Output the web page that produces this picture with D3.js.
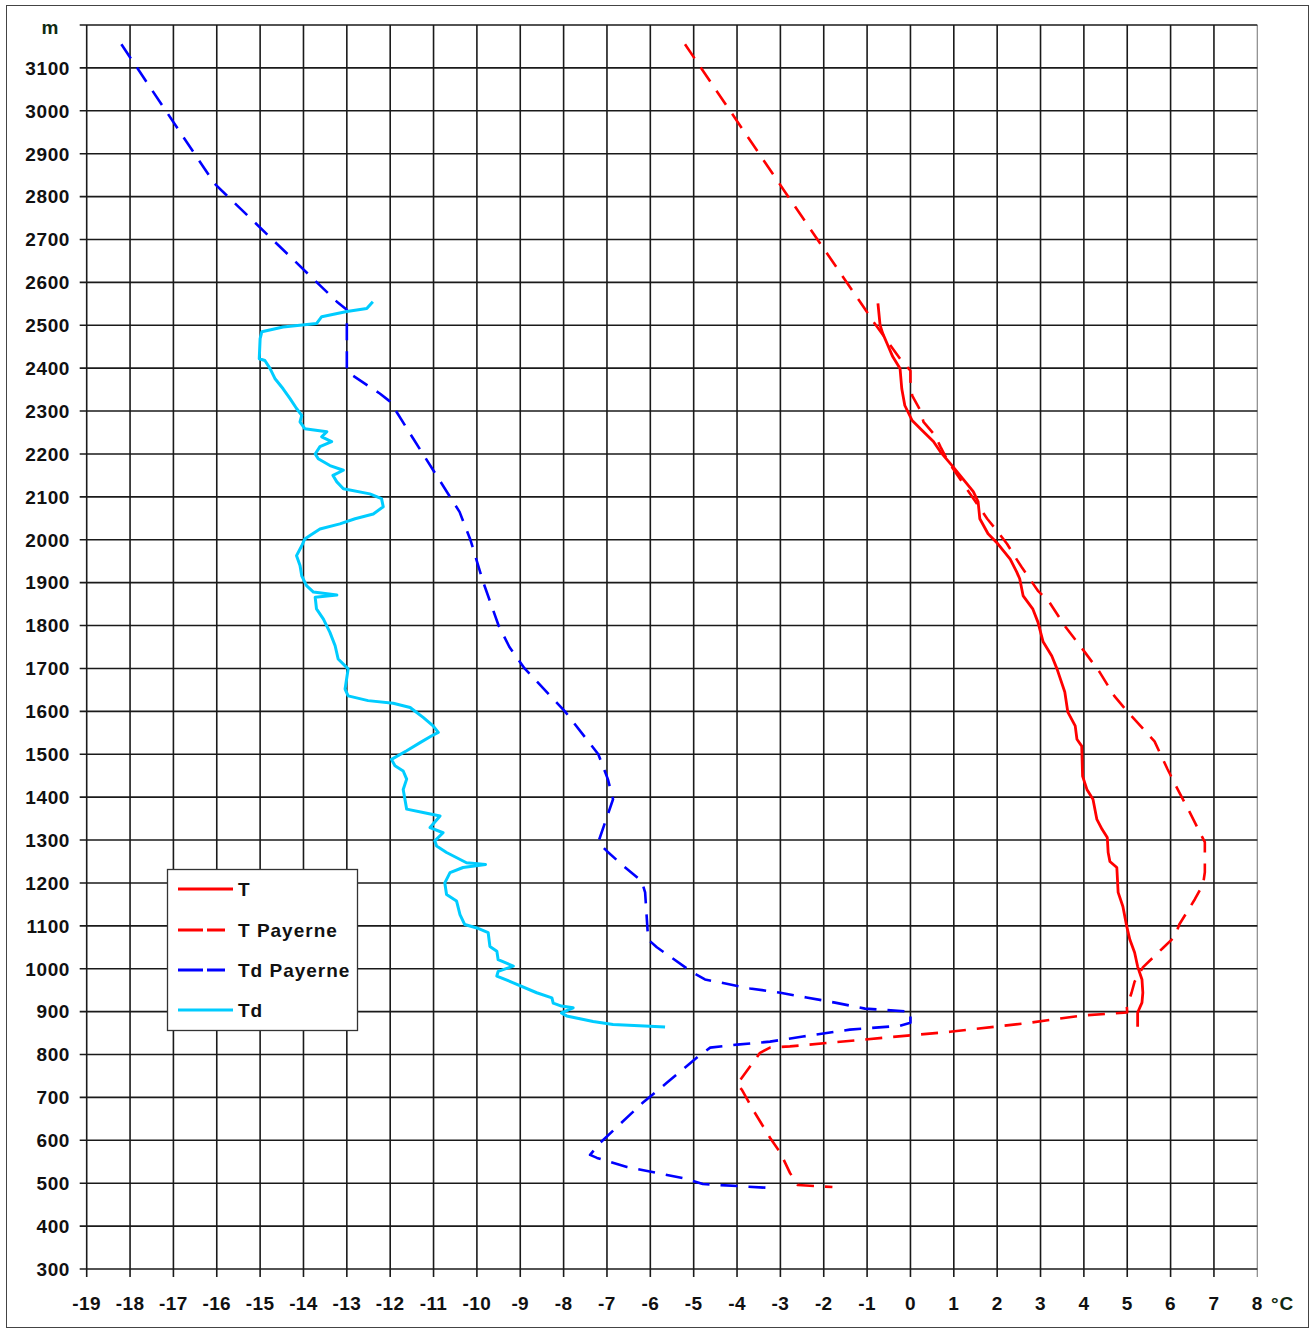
<!DOCTYPE html>
<html><head><meta charset="utf-8">
<script src="https://cdn.jsdelivr.net/npm/d3@7/dist/d3.min.js"></script>
<style>body{margin:0;background:#fff}svg{display:block}text{font-family:"Liberation Sans",Arial,sans-serif}</style>
</head><body><svg id="c" width="1313" height="1329"></svg>
<script>
// x ticks (°C) and y ticks (m)
const xTicks = d3.range(-19, 9, 1);
const yTicks = d3.range(300, 3300, 100);
const seriesNames = ["T", "T Payerne", "Td Payerne", "Td"];

// [altitude m, temperature °C]
const tPayerne = [[3155,-5.2],[2812,-2.9],[2532,-1.01],[2509,-0.86],[2422,-0.24],[2394,0.0],[2369,0.0],[2336,0.04],[2301,0.23],[2275,0.3],[2243,0.57],[2217,0.69],[2182,0.87],[2049,1.77],[2018,2.02],[1990,2.23],[1962,2.4],[1937,2.56],[1881,2.94],[1855,3.2],[1799,3.56],[1745,3.97],[1692,4.36],[1636,4.7],[1601,4.99],[1530,5.63],[1465,5.93],[1411,6.2],[1365,6.44],[1295,6.79],[1225,6.79],[1197,6.75],[1162,6.56],[1103,6.2],[1075,6.1],[1049,5.83],[1003,5.36],[970,5.17],[944,5.1],[912,4.99],[898,5.0],[891,3.97],[874,2.75],[853,0.91],[839,-0.63],[828,-1.79],[819,-2.78],[816,-3.24],[804,-3.47],[772,-3.7],[730,-4.0],[718,-3.89],[671,-3.63],[606,-3.24],[571,-3.0],[524,-2.78],[496,-2.6],[491,-1.8]];

const tdPayerne = [[3155,-18.2],[2830,-16.05],[2555,-13.23],[2536,-13.0],[2392,-13.0],[2341,-12.24],[2322,-12.0],[2236,-11.47],[2065,-10.4],[2000,-10.15],[1900,-9.85],[1800,-9.5],[1750,-9.25],[1700,-8.9],[1600,-7.97],[1500,-7.2],[1442,-6.98],[1395,-6.86],[1295,-7.2],[1274,-7.0],[1243,-6.66],[1204,-6.2],[1178,-6.12],[1068,-6.05],[1050,-5.85],[991,-5.02],[975,-4.74],[954,-3.7],[944,-3.0],[933,-2.4],[921,-1.74],[907,-1.05],[900,0.0],[874,0.0],[867,-0.24],[858,-1.4],[842,-2.48],[830,-3.24],[823,-4.0],[816,-4.62],[795,-4.9],[734,-5.62],[688,-6.17],[594,-7.16],[566,-7.39],[559,-7.23],[538,-6.54],[512,-5.25],[498,-4.79],[489,-3.24]];

const tObs = [[2551,-0.75],[2500,-0.7],[2481,-0.64],[2453,-0.52],[2427,-0.41],[2399,-0.24],[2352,-0.2],[2313,-0.13],[2278,0.04],[2259,0.23],[2229,0.53],[2205,0.69],[2173,0.96],[2142,1.21],[2112,1.45],[2089,1.56],[2049,1.6],[2014,1.79],[1990,2.02],[1955,2.3],[1925,2.45],[1909,2.52],[1869,2.6],[1839,2.82],[1808,2.94],[1762,3.06],[1729,3.26],[1699,3.38],[1645,3.56],[1598,3.63],[1566,3.8],[1535,3.84],[1519,3.95],[1449,3.97],[1418,4.07],[1395,4.21],[1348,4.3],[1325,4.42],[1306,4.54],[1271,4.56],[1250,4.6],[1236,4.76],[1178,4.79],[1145,4.9],[1098,4.99],[1068,5.06],[1038,5.17],[1005,5.24],[975,5.34],[944,5.36],[921,5.34],[898,5.24],[865,5.24]];

const tdObs = [[2555,-12.4],[2539,-12.54],[2532,-13.0],[2520,-13.58],[2504,-13.7],[2496,-14.47],[2485,-14.96],[2469,-15.0],[2422,-15.02],[2418,-14.89],[2399,-14.77],[2376,-14.66],[2352,-14.47],[2329,-14.31],[2306,-14.16],[2290,-14.04],[2275,-14.08],[2259,-13.97],[2252,-13.46],[2240,-13.58],[2229,-13.35],[2217,-13.62],[2200,-13.73],[2189,-13.66],[2173,-13.39],[2162,-13.08],[2150,-13.32],[2135,-13.23],[2119,-13.08],[2107,-12.47],[2096,-12.2],[2077,-12.16],[2060,-12.39],[2049,-12.81],[2037,-13.16],[2025,-13.62],[2010,-13.85],[2002,-13.97],[1986,-14.04],[1963,-14.16],[1940,-14.08],[1916,-14.04],[1893,-13.93],[1878,-13.77],[1871,-13.23],[1866,-13.73],[1839,-13.7],[1815,-13.54],[1784,-13.39],[1753,-13.27],[1722,-13.2],[1699,-12.97],[1652,-13.04],[1636,-12.97],[1625,-12.51],[1619,-11.93],[1609,-11.54],[1586,-11.24],[1566,-11.01],[1551,-10.89],[1543,-11.04],[1527,-11.31],[1508,-11.62],[1488,-11.97],[1473,-11.89],[1461,-11.7],[1442,-11.62],[1418,-11.7],[1372,-11.62],[1364,-11.24],[1356,-10.85],[1329,-11.08],[1317,-10.78],[1298,-10.97],[1286,-10.93],[1271,-10.7],[1247,-10.24],[1243,-9.8],[1236,-10.32],[1224,-10.62],[1200,-10.74],[1173,-10.7],[1158,-10.47],[1126,-10.39],[1103,-10.28],[1095,-10.0],[1084,-9.74],[1052,-9.7],[1041,-9.54],[1021,-9.51],[1006,-9.16],[994,-9.51],[983,-9.54],[967,-9.16],[944,-8.62],[932,-8.27],[920,-8.24],[913,-8.05],[909,-7.78],[897,-8.05],[890,-7.93],[877,-7.32],[870,-6.86],[866,-6.01],[864,-5.66]];

const svg = d3.select("#c");
const L = 86.7, R = 1257.3, T = 25, B = 1269;
const x = d3.scaleLinear().domain([-19, 8]).range([L, R]);
const y = d3.scaleLinear().domain([300, 3200]).range([B, T]);

// outer frame
svg.append("rect").attr("x",6.5).attr("y",5.5).attr("width",1302).attr("height",1322)
  .attr("fill","#fff").attr("stroke","#444").attr("stroke-width",1);

const gridCol = "#1a1a1a";
// vertical grid
svg.append("g").selectAll("line").data(xTicks.filter(d => d < 8)).join("line")
  .attr("x1", d => x(d)).attr("x2", d => x(d)).attr("y1", T).attr("y2", B + 8)
  .attr("stroke", gridCol).attr("stroke-width", 1.6);
// right border (lighter)
svg.append("line").attr("x1", x(8)).attr("x2", x(8)).attr("y1", T).attr("y2", B + 8)
  .attr("stroke", "#888").attr("stroke-width", 1.2);
// horizontal grid
svg.append("g").selectAll("line").data(yTicks).join("line")
  .attr("x1", L - 7).attr("x2", R).attr("y1", d => y(d)).attr("y2", d => y(d))
  .attr("stroke", gridCol).attr("stroke-width", 1.6);

// y tick labels
svg.append("g").selectAll("text").data(yTicks.filter(d => d <= 3100)).join("text")
  .attr("x", 70).attr("y", d => y(d)).attr("dy", "0.36em").attr("text-anchor", "end")
  .attr("font-size", 19).attr("font-weight", "bold").attr("letter-spacing", 0.6)
  .attr("fill", "#111").text(d => d);
// x tick labels
svg.append("g").selectAll("text").data(xTicks).join("text")
  .attr("x", d => x(d)).attr("y", 1310).attr("text-anchor", "middle")
  .attr("font-size", 19).attr("font-weight", "bold").attr("letter-spacing", 0.4)
  .attr("fill", "#111").text(d => d);
// units
svg.append("text").attr("x", 50).attr("y", 34).attr("text-anchor", "middle")
  .attr("font-size", 19).attr("font-weight", "bold").attr("fill", "#0f2a12").text("m");
svg.append("text").attr("x", 1271).attr("y", 1310).attr("letter-spacing", 0.8)
  .attr("font-size", 19).attr("font-weight", "bold").attr("fill", "#0f2a12").text("°C");

const line = d3.line().x(d => x(d[1])).y(d => y(d[0]));
const styles = [
  {data: tObs, color: "#ff0000", dash: null, w: 2.8},
  {data: tPayerne, color: "#ff0000", dash: "17,11", w: 2.6},
  {data: tdPayerne, color: "#0000ff", dash: "17,11", w: 2.6},
  {data: tdObs, color: "#00ccff", dash: null, w: 3}
];
const plot = svg.append("g");
[1, 2, 0, 3].forEach(i => {
  const s = styles[i];
  plot.append("path").attr("d", line(s.data)).attr("fill", "none")
    .attr("stroke", s.color).attr("stroke-width", s.w)
    .attr("stroke-linejoin", "round")
    .attr("stroke-dasharray", s.dash);
});

// legend
const lg = svg.append("g");
lg.append("rect").attr("x", 167.5).attr("y", 869.5).attr("width", 190).attr("height", 161)
  .attr("fill", "#fff").attr("stroke", "#333").attr("stroke-width", 1.3);
const ly = [889, 930, 970, 1010];
seriesNames.forEach((n, i) => {
  const s = styles[i];
  lg.append("line").attr("x1", 178).attr("x2", s.dash ? 225 : 233)
    .attr("y1", ly[i]).attr("y2", ly[i]).attr("stroke", s.color).attr("stroke-width", 3)
    .attr("stroke-dasharray", s.dash ? "25,4,18" : null);
  lg.append("text").attr("x", 238).attr("y", ly[i]).attr("dy", "0.36em")
    .attr("font-size", 19).attr("font-weight", "bold").attr("letter-spacing", 1)
    .attr("fill", "#111").text(n);
});
</script></body></html>
